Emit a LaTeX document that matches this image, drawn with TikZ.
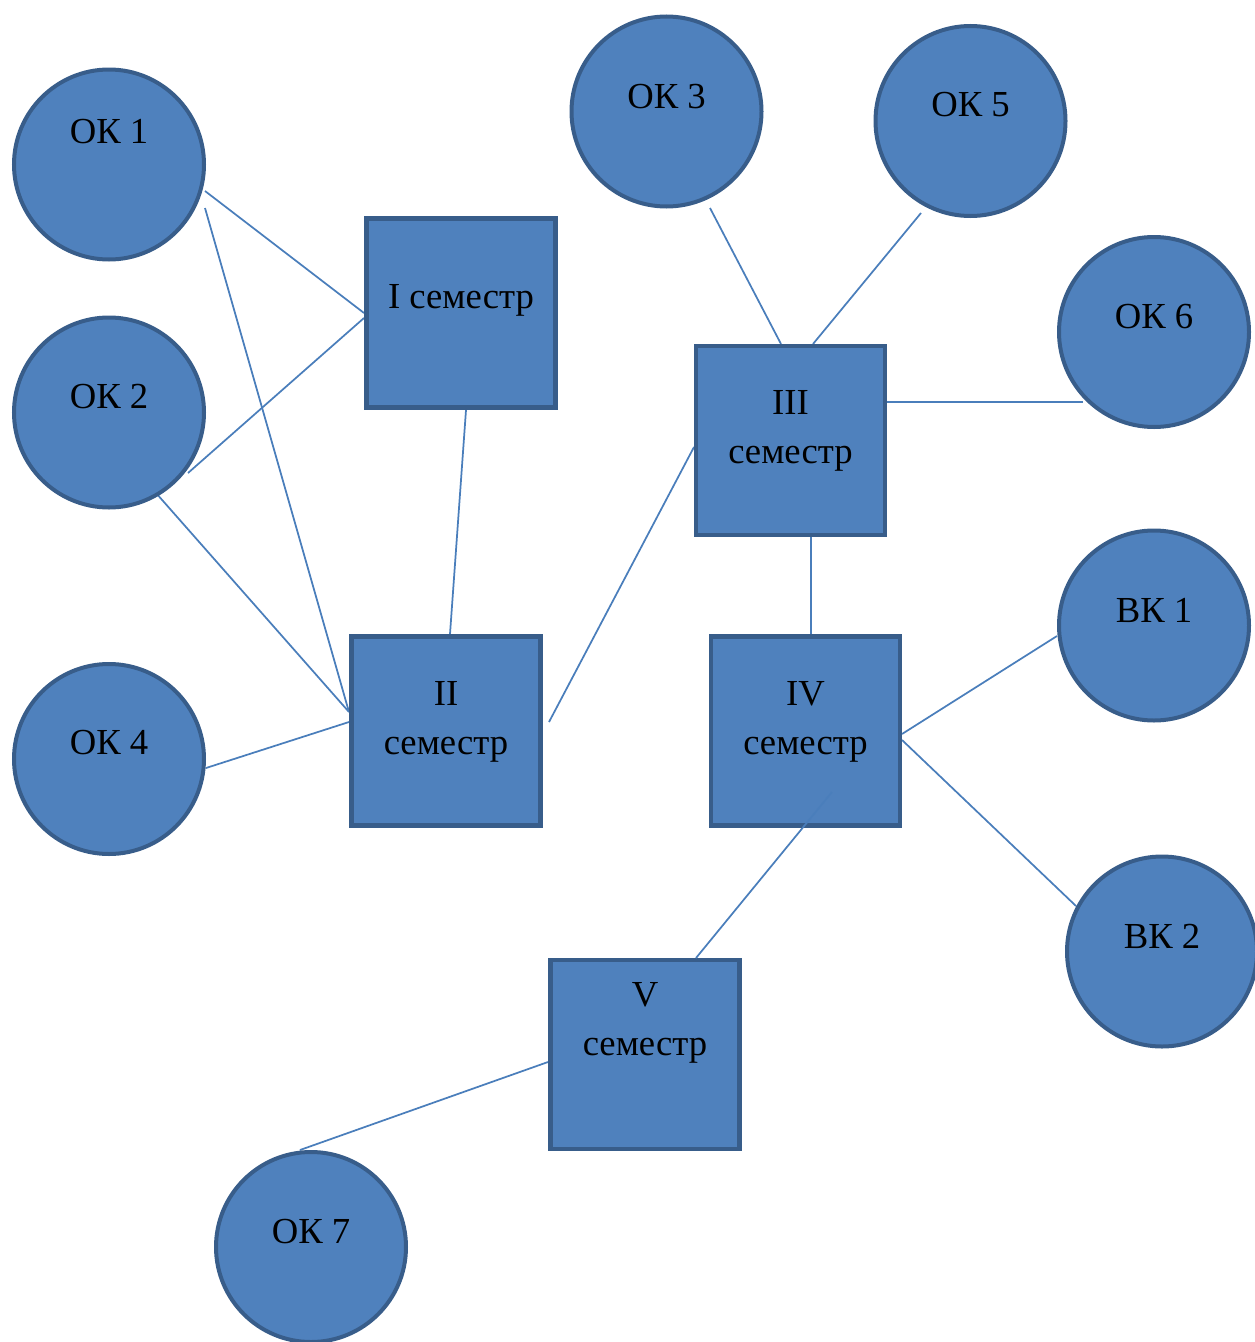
\documentclass[tikz,border=0pt]{standalone}
\usepackage{fontspec}
\setmainfont{Liberation Serif}
\usetikzlibrary{calc,backgrounds}
\definecolor{fillc}{HTML}{4F81BD}
\definecolor{bordc}{HTML}{385D8A}
\definecolor{linec}{HTML}{4A7EBB}
\tikzset{
  okc/.style={circle, draw=bordc, fill=fillc, line width=3pt, minimum size=142.5pt, inner sep=0pt},
  semq/.style={rectangle, draw=bordc, fill=fillc, line width=3.4pt, minimum size=142pt, inner sep=0pt},
  link/.style={draw=linec, line width=1.3pt},
  txt/.style={font=\fontsize{27.5}{36.75}\selectfont, text=black, text height=0.66em, text depth=0pt, inner sep=0pt},
  txttwo/.style={font=\fontsize{27.5}{36.75}\selectfont, text=black, align=center, inner sep=0pt},
}
\begin{document}
\begin{tikzpicture}[x=0.75pt, y=-0.75pt]
\useasboundingbox (0,0) rectangle (1255,1342);
\clip (0,0) rectangle (1255,1342);
% circles
\node[okc, label={[txt, yshift=19.2pt]center:ОК 1}] (ok1) at (109,164.5) {};
\node[okc, label={[txt, yshift=6.4pt]center:ОК 2}] (ok2) at (109,412.5) {};
\node[okc, label={[txt, yshift=6.8pt]center:ОК 4}] (ok4) at (109,759) {};
\node[okc, label={[txt, yshift=5.7pt]center:ОК 3}] (ok3) at (666.5,111.5) {};
\node[okc, label={[txt, yshift=6.8pt]center:ОК 5}] (ok5) at (970.5,121) {};
\node[okc, label={[txt, yshift=6.1pt]center:ОК 6}] (ok6) at (1154,332) {};
\node[okc, label={[txt, yshift=5.7pt]center:ВК 1}] (vk1) at (1154,625.5) {};
\node[okc, label={[txt, yshift=5.7pt]center:ВК 2}] (vk2) at (1162,951.5) {};
\node[okc, label={[txt, yshift=6.1pt]center:ОК 7}] (ok7) at (311,1247) {};
% squares
\node[semq, label={[txt, yshift=6.4pt]center:I семестр}] (s1) at (461,313) {};
\node[semq, label={[txttwo, yshift=7pt]center:II\\семестр}] (s2) at (446,731) {};
\node[semq, label={[txttwo, yshift=7pt]center:III\\семестр}] (s3) at (790.5,440.5) {};
\node[semq, label={[txttwo, yshift=7pt]center:IV\\семестр}] (s4) at (805.5,731) {};
\node[semq, label={[txttwo, yshift=23.6pt]center:V\\семестр}] (s5) at (645,1054.5) {};
% connectors
\begin{scope}[on background layer]
\draw[link] ($(ok1)+(96,26.5)$) -- ($(s1)+(-97,0)$);
\draw[link] ($(ok1)+(96,43.5)$) -- ($(s2)+(-97,-19)$);
\draw[link] ($(ok2)+(79,60.5)$) -- ($(s1)+(-97,5)$);
\draw[link] ($(ok2)+(47,80.5)$) -- ($(s2)+(-97,-19)$);
\draw[link] ($(ok4)+(97,9)$) -- ($(s2)+(-97,-9)$);
\draw[link] ($(s1)+(5,97)$) -- ($(s2)+(4,-97)$);
\draw[link] ($(s2)+(103,-9)$) -- ($(s3)+(-96.5,6.5)$);
\draw[link] ($(ok3)+(43.5,96.5)$) -- ($(s3)+(-9.5,-96.5)$);
\draw[link] ($(ok5)+(-49.5,92)$) -- ($(s3)+(22.5,-96.5)$);
\draw[link] ($(ok6)+(-71,70)$) -- ($(s3)+(96.5,-38.5)$);
\draw[link] ($(s3)+(20.5,96.5)$) -- ($(s4)+(5.5,-97)$);
\draw[link] ($(vk1)+(-97,10.5)$) -- ($(s4)+(96.5,3)$);
\draw[link] ($(vk2)+(-86,-45.5)$) -- ($(s4)+(96.5,9)$);
\draw[link] ($(s5)+(-97,7.5)$) -- ($(ok7)+(-11,-97)$);
\end{scope}
\draw[link] ($(s4)+(26.5,61)$) -- ($(s5)+(51,-96.5)$);
\end{tikzpicture}
\end{document}
